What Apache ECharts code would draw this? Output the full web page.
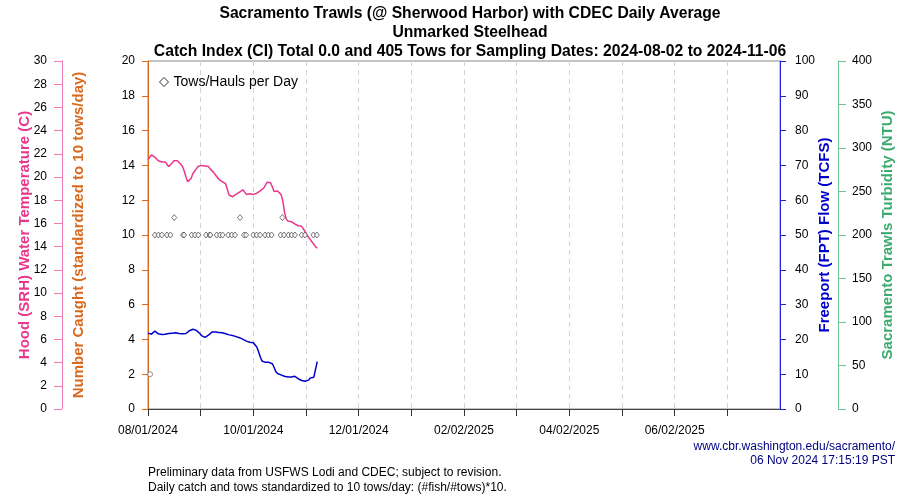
<!DOCTYPE html>
<html><head><meta charset="utf-8">
<script src="https://cdn.jsdelivr.net/npm/echarts@6/dist/echarts.min.js"></script>
<style>html,body{margin:0;padding:0;background:#fff}#c{width:900px;height:500px}</style>
</head><body><div id="c"></div>
<script>
// ---- data (x in days since 2024-08-01) ----
const titleLines = [
  'Sacramento Trawls (@ Sherwood Harbor) with CDEC Daily Average',
  'Unmarked Steelhead',
  'Catch Index (CI) Total 0.0 and 405 Tows for Sampling Dates: 2024-08-02 to 2024-11-06'
];
const xTickLabels = ['08/01/2024','','10/01/2024','','12/01/2024','','02/02/2025','','04/02/2025','','06/02/2025','',''];
const tempDays = [0,1,2,3,4,5,6,7,8,9,10,11,12,13,14,15,16,17,18,19,20,21,22,23,24,25,26,27,28,29,30,31,32,33,34,35,36,37,38,39,40,41,42,43,44,45,46,47,48,49,50,51,52,53,54,55,56,57,58,59,60,61,62,63,64,65,66,67,68,69,70,71,72,73,74,75,76,77,78,79,80,81,82,83,84,85,86,87,88,89,90,91,92,93,94,95,96,97,98];
const tempC = [21.5,21.7,21.9,21.9,21.7,21.6,21.4,21.3,21.3,21.3,21.3,21.1,20.9,20.9,21.2,21.4,21.5,21.4,21.3,21.1,
  20.9,20.5,20.0,19.6,19.45,19.9,20.3,20.5,20.7,20.9,20.95,21.0,20.95,20.95,21.0,20.9,20.7,20.6,20.4,20.2,
  20.0,19.8,19.7,19.6,19.55,19.4,18.9,18.45,18.3,18.3,18.35,18.5,18.6,18.7,18.85,18.9,18.7,18.5,18.55,18.55,
  18.5,18.5,18.55,18.6,18.7,18.8,18.9,19.05,19.3,19.55,19.6,19.5,19.15,18.75,18.6,18.8,18.75,18.5,18.0,17.0,
  16.4,16.2,16.2,16.15,16.15,15.95,15.85,15.8,15.8,15.75,15.7,15.3,15.0,14.8,14.6,14.4,14.2,14.0,13.85];
const flowDays = tempDays;
const flowTCFS = [21.8,21.6,21.5,21.9,22.4,22.2,21.6,21.5,21.4,21.5,21.5,21.5,21.7,21.6,21.8,21.7,21.9,21.8,21.7,21.9,
  21.6,21.5,21.7,22.2,22.5,22.7,22.9,22.9,22.6,22.2,21.7,21.1,20.8,20.6,20.9,21.2,21.4,22.1,22.4,22.1,
  21.9,22.0,21.8,21.9,21.7,21.6,21.5,21.3,21.2,21.1,21.0,20.8,20.7,20.5,20.2,20.0,19.8,19.5,19.3,19.2,
  19.1,19.05,19.0,17.8,16.5,15.0,13.8,13.5,13.4,13.3,13.4,13.2,13.0,12.0,10.8,10.2,10.0,9.8,9.6,9.4,
  9.3,9.2,9.0,9.2,9.6,9.4,9.0,8.7,8.5,8.2,8.1,8.0,8.1,8.3,8.9,9.1,9.1,9.2,13.6];
const towDays = [4,6,8,11,13,15.2,20.3,20.9,25.3,27.2,29.1,33.6,35.6,36.2,39.8,41.7,43.2,46.5,48.5,50.4,53.3,55.6,56.8,
  61,62.9,64.9,67.8,69.7,71.6,76.8,77.8,78.8,81.3,83.2,85.1,89,90.9,95.8,97.8];
const towVals = [10,10,10,10,10,11,10,10,10,10,10,10,10,10,10,10,10,10,10,10,11,10,10,
  10,10,10,10,10,10,10,11,10,10,10,10,10,10,10,10];
const catchDays = [1.2];
const catchVals = [2];

const FONT = '"Liberation Sans", Arial, Helvetica, sans-serif';
const PINK = '#E8388C', PINK_AX = '#F27AB6';
const ORANGE = '#D9691E';
const BLUE = '#0000CC', BLUE_AX = '#2020E0';
const GREEN = '#3DAA6E', GREEN_AX = '#6CC393';

const chart = echarts.init(document.getElementById('c'), null, {renderer:'canvas'});
const pair = (xs, ys) => xs.map((x,i)=>[x, ys[i]]);

chart.setOption({
  animation:false,
  backgroundColor:'#fff',
  textStyle:{fontFamily:FONT},
  title:{text:titleLines.join('\n'), left:465, top:-1, textAlign:'center',
    textStyle:{fontFamily:FONT, fontSize:15.7, fontWeight:'bold', color:'#000', lineHeight:19}},
  grid:{left:148, right:120, top:61, bottom:91, show:true, borderColor:'#888', borderWidth:1,
    outerBoundsMode:'none', containLabel:false},
  legend:{left:154, top:70, itemWidth:9, itemHeight:9, itemGap:6,
    data:[{name:'Tows/Hauls per Day', icon:'diamond', itemStyle:{color:'#fff', borderColor:'#000', borderWidth:1}}],
    textStyle:{fontFamily:FONT, fontSize:14, color:'#000'}},
  xAxis:{type:'value', min:0, max:366, interval:30.5,
    axisLine:{show:true, lineStyle:{color:'#444'}},
    axisTick:{show:true, length:7, lineStyle:{color:'#333'}},
    axisLabel:{color:'#000', fontSize:12, fontFamily:FONT, margin:16, showMaxLabel:false,
      formatter:(v)=>{const i=Math.round(v/30.5); return xTickLabels[i]||'';}},
    splitLine:{show:true, lineStyle:{color:'#d4d4d4', type:[5,4]}}},
  yAxis:[
    {type:'value', min:0, max:20, interval:2, position:'left',
     axisLine:{show:true, lineStyle:{color:ORANGE}}, axisTick:{show:true, length:6, lineStyle:{color:ORANGE}},
     axisLabel:{color:'#000', fontSize:12, fontFamily:FONT, margin:13}, splitLine:{show:false},
     name:'Number Caught (standardized to 10 tows/day)', nameLocation:'middle', nameRotate:90, nameGap:62,
     nameMoveOverlap:false,
     nameTextStyle:{color:ORANGE, fontWeight:'bold', fontSize:15, fontFamily:FONT}},
    {type:'value', min:0, max:30, interval:2, position:'left', offset:86,
     axisLine:{show:true, lineStyle:{color:PINK_AX}}, axisTick:{show:true, length:8, lineStyle:{color:PINK_AX}},
     axisLabel:{color:'#000', fontSize:12, fontFamily:FONT, margin:15}, splitLine:{show:false},
     name:'Hood (SRH) Water Temperature (C)', nameLocation:'middle', nameRotate:90, nameGap:30,
     nameMoveOverlap:false,
     nameTextStyle:{color:PINK, fontWeight:'bold', fontSize:15, fontFamily:FONT}},
    {type:'value', min:0, max:100, interval:10, position:'right',
     axisLine:{show:true, lineStyle:{color:BLUE_AX}}, axisTick:{show:true, length:6, lineStyle:{color:BLUE_AX}},
     axisLabel:{color:'#000', fontSize:12, fontFamily:FONT, margin:15}, splitLine:{show:false},
     name:'Freeport (FPT) Flow (TCFS)', nameLocation:'middle', nameRotate:90, nameGap:37,
     nameMoveOverlap:false,
     nameTextStyle:{color:BLUE, fontWeight:'bold', fontSize:15, fontFamily:FONT}},
    {type:'value', min:0, max:400, interval:50, position:'right', offset:58,
     axisLine:{show:true, lineStyle:{color:GREEN_AX}}, axisTick:{show:true, length:8, lineStyle:{color:GREEN_AX}},
     axisLabel:{color:'#000', fontSize:12, fontFamily:FONT, margin:14}, splitLine:{show:false},
     name:'Sacramento Trawls Turbidity (NTU)', nameLocation:'middle', nameRotate:90, nameGap:42,
     nameMoveOverlap:false,
     nameTextStyle:{color:GREEN, fontWeight:'bold', fontSize:15, fontFamily:FONT}}
  ],
  series:[
    {name:'Water Temperature', type:'line', yAxisIndex:1, data:pair(tempDays,tempC), showSymbol:false,
     lineStyle:{color:PINK, width:1.5}, itemStyle:{color:PINK}, smooth:false, z:3},
    {name:'Flow', type:'line', yAxisIndex:2, data:pair(flowDays,flowTCFS), showSymbol:false,
     lineStyle:{color:BLUE, width:1.5}, itemStyle:{color:BLUE}, z:3},
    {name:'Tows/Hauls per Day', type:'scatter', yAxisIndex:0, data:pair(towDays,towVals), symbol:'diamond',
     symbolSize:[5,6], itemStyle:{color:'#fff', borderColor:'#444', borderWidth:0.9}, z:4},
    {name:'Catch', type:'scatter', yAxisIndex:0, data:pair(catchDays,catchVals), symbol:'circle',
     symbolSize:5, itemStyle:{color:'#fff', borderColor:'#777', borderWidth:1}, z:4}
  ],
  graphic:[
    {type:'text', right:5, top:441, style:{text:'www.cbr.washington.edu/sacramento/', fill:'#000080', font:'12px '+FONT, textAlign:'right'}},
    {type:'text', right:5, top:455, style:{text:'06 Nov 2024 17:15:19 PST', fill:'#000080', font:'12px '+FONT, textAlign:'right'}},
    {type:'text', left:148, top:467, style:{text:'Preliminary data from USFWS Lodi and CDEC; subject to revision.', fill:'#000', font:'12px '+FONT}},
    {type:'text', left:148, top:482, style:{text:'Daily catch and tows standardized to 10 tows/day: (#fish/#tows)*10.', fill:'#000', font:'12px '+FONT}}
  ]
});
</script></body></html>
